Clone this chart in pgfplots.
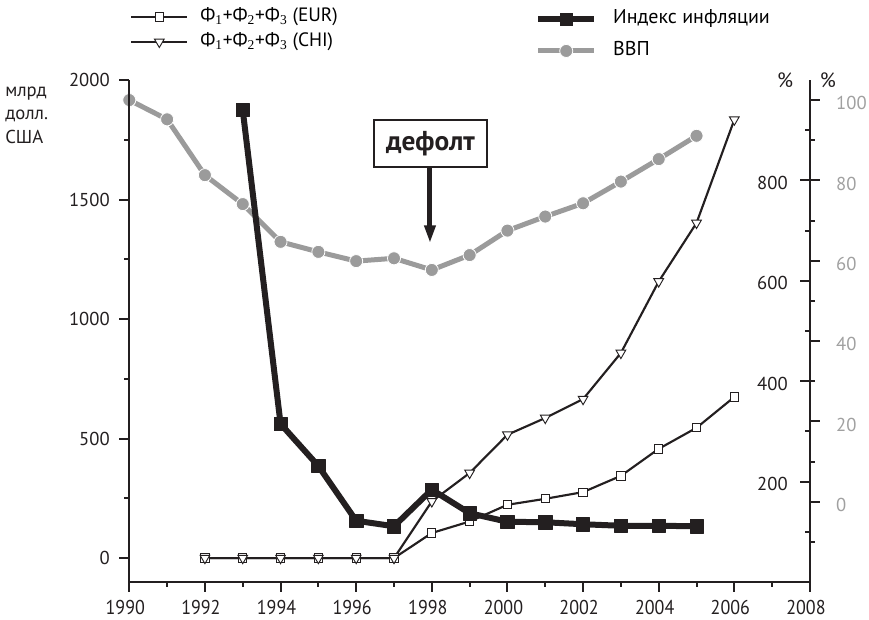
\documentclass[border=0pt]{standalone}
\usepackage{fontspec}
\setmainfont{PT Sans}
\newfontfamily\subfont{Liberation Serif}
\usepackage{graphicx}
\usepackage{pgfplots}
\pgfplotsset{compat=1.18}
\usetikzlibrary{arrows.meta}
\definecolor{ink}{RGB}{35,31,32}
\definecolor{gdp}{RGB}{155,155,155}
\definecolor{gdplab}{RGB}{160,160,160}

\pgfplotsset{
  base/.style={
    at={(0pt,0pt)}, anchor=south west, scale only axis,
    width=510.5pt, height=376.5pt,
    xmin=1990, xmax=2008,
    clip=false,
    /pgf/number format/assume math mode=true,
    /pgf/number format/1000 sep={},
    axis line style={ink, line width=1.5pt},
    tick style={ink, line width=1.5pt},
    major tick length=7.5pt, minor tick length=3.75pt,
    ticklabel style={font=\fontsize{14}{16}\selectfont, text=ink},
  },
}

\pgfplotstableread{
year gdp
1990 100
1991 95.2
1992 81.3
1993 74.1
1994 64.7
1995 62.2
1996 59.9
1997 60.6
1998 57.7
1999 61.4
2000 67.5
2001 71.0
2002 74.3
2003 79.7
2004 85.3
2005 91.1
}\gdptable

\pgfplotstableread{
year eur chi
1992 0 0
1993 0 0
1994 0 0
1995 0 0
1996 0 0
1997 0 0
1998 105 237
1999 153 356
2000 223 516
2001 248 586
2002 276 665
2003 344 858
2004 457 1157
2005 545 1402
2006 674 1834
}\fitable

\pgfplotstableread{
year infl
1993 940
1994 315
1995 231
1996 122
1997 111
1998 184
1999 137
2000 120
2001 119
2002 115
2003 112
2004 112
2005 111
}\infltable

\begin{document}
\begin{tikzpicture}
\path[use as bounding box] (-96.975pt,-28.5pt) rectangle (554.775pt,436.5pt);

% ---------- gray axis (GDP, %) ----------
\begin{axis}[base,
  ymin=-20, ymax=105,
  axis x line=none, axis y line*=right,
  ytick={0,20,...,100}, minor ytick={-10,10,...,90},
  tick align=outside,
  yticklabel style={text=gdplab, anchor=west, inner sep=0pt, xshift=12pt, yshift=-2.5pt},
  legend image code/.code={\draw[mark repeat=2,mark phase=2,#1] plot coordinates {(0pt,0pt) (21pt,0pt) (42pt,0pt)};},
  legend style={at={(0.596,1.1394)}, anchor=north west, draw=none, fill=none,
    inner sep=0pt, row sep=11pt, column sep=12pt,
    font=\fontsize{15}{17}\selectfont,
    nodes={inner sep=0pt, text height=10pt, text depth=3pt}},
  legend cell align=left,
]
\addlegendimage{ink, line width=4.5pt, mark=square*, mark size=4.5pt, mark options={fill=ink, draw=ink, line width=0.5pt}}
\addlegendentry{Индекс инфляции}
\addplot[gdp, line width=3.75pt, line join=round, mark=*, mark size=4.9pt,
  mark options={fill=gdp, draw=white, line width=0.6pt}]
  table[x=year, y=gdp] {\gdptable};
\addlegendentry{ВВП}
\end{axis}

% ---------- left axis (bn USD) ----------
\begin{axis}[base,
  ymin=-100, ymax=2000,
  axis x line*=bottom, axis y line*=left,
  xtick={1990,1992,...,2008}, minor xtick={1991,1993,...,2007},
  ytick={0,500,...,2000}, minor ytick={250,750,...,1750},
  tick align=outside,
  yticklabel style={anchor=east, inner sep=0pt, xshift=-7pt},
  xticklabel style={font=\fontsize{15}{17}\selectfont, inner sep=0pt, yshift=-6pt, xshift=-3pt},
  xticklabel={\scalebox{0.9}[1]{\axisdefaultticklabel}},
  legend image code/.code={\draw[mark repeat=2,mark phase=2,#1] plot coordinates {(0pt,0pt) (21pt,0pt) (42pt,0pt)};},
  legend style={at={(0.001,1.1434)}, anchor=north west, draw=none, fill=none,
    inner sep=0pt, row sep=5.75pt, column sep=9pt,
    font=\fontsize{14.5}{17}\selectfont,
    nodes={inner sep=0pt, text height=10pt, text depth=3pt}},
  legend cell align=left,
]
\addplot[ink, line width=1.6pt, mark=square*, mark size=3.1pt,
  mark options={fill=white, draw=ink, line width=0.7pt}]
  table[x=year, y=eur] {\fitable};
\addlegendentry{Ф\textsubscript{\subfont 1}+Ф\textsubscript{\subfont 2}+Ф\textsubscript{\subfont 3} (EUR)}
\addplot[ink, line width=1.6pt, mark=triangle*, mark size=4.2pt,
  mark options={rotate=180, fill=white, draw=ink, line width=0.7pt}]
  table[x=year, y=chi] {\fitable};
\addlegendentry{Ф\textsubscript{\subfont 1}+Ф\textsubscript{\subfont 2}+Ф\textsubscript{\subfont 3} (CHI)}
\end{axis}

% ---------- black axis (inflation, %) ----------
\begin{axis}[base,
  ymin=0, ymax=1000,
  axis x line=none, axis y line*=right,
  ytick={200,400,600,800}, minor ytick={100,300,...,900},
  tick align=inside,
  yticklabel style={anchor=east, inner sep=0pt, xshift=-16.5pt, yshift=-2pt},
]
\addplot[ink, line width=4.5pt, line join=round, mark=square*, mark size=5pt,
  mark options={fill=ink, draw=ink, line width=0.5pt}]
  table[x=year, y=infl] {\infltable};
\end{axis}

% ---------- annotations ----------
\node[anchor=base west, font=\fontsize{14}{16}\selectfont, text=ink, inner sep=0pt] at (-93.2pt,364pt) {млрд};
\node[anchor=base west, font=\fontsize{14}{16}\selectfont, text=ink, inner sep=0pt] at (-93.2pt,346.5pt) {долл.};
\node[anchor=base west, font=\fontsize{14}{16}\selectfont, text=ink, inner sep=0pt] at (-93.2pt,329pt) {США};
\node[font=\fontsize{15.5}{17}\selectfont, text=ink, inner sep=0pt] at (491.8pt,376.5pt) {\%};
\node[font=\fontsize{15.5}{17}\selectfont, text=ink, inner sep=0pt] at (524pt,376.5pt) {\%};
\draw[ink, line width=3.75pt, -{Triangle[length=13.5pt, width=8pt]}] (225.5pt,311.25pt) -- (225.5pt,254pt);
\node[draw=ink, line width=1.1pt, fill=white, minimum width=84.75pt, minimum height=35.25pt,
  inner sep=0pt, font=\bfseries\fontsize{20.5}{24}\selectfont, text=ink] at (225.9pt,328.9pt) {дефолт};
\end{tikzpicture}
\end{document}
